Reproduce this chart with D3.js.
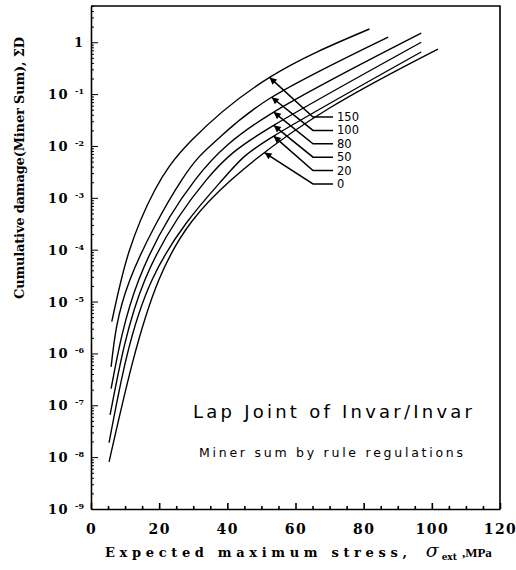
<!DOCTYPE html>
<html>
<head>
<meta charset="utf-8">
<script src="https://cdn.jsdelivr.net/npm/d3@7/dist/d3.min.js"></script>
<style>
  body { margin: 0; background: #fff; }
  .axis path, .axis line { stroke: #000; stroke-width: 1.6; }
  .tickLab { font-family: "DejaVu Serif", serif; font-weight: bold; font-size: 12px; }
  .curve { fill: none; stroke: #000; stroke-width: 1.4; }
</style>
</head>
<body>
<script>
// mean stress (MPa) for each curve, top curve first
var meanStress = ["150", "100", "80", "50", "20", "0"];

// expected max stress (MPa) / Miner sum, one pair per curve
var sig150 = [6.1, 11.1, 18.7, 29.6, 52.4, 81.7];
var dmg150 = [4.1e-6, 8.9e-5, 1.4e-3, 1.3e-2, 0.21, 1.8];
var sig100 = [5.9, 11.4, 26.6, 36.9, 53.0, 87.2];
var dmg100 = [5.5e-7, 2.6e-5, 2.2e-3, 1.3e-2, 8.7e-2, 1.26];
var sig80 = [5.9, 14.0, 30.5, 53.6, 96.9];
var dmg80 = [2.1e-7, 2.6e-5, 2.2e-3, 4.5e-2, 1.5];
var sig50 = [5.6, 15.8, 33.8, 53.6, 96.9];
var dmg50 = [6.5e-8, 2.6e-5, 2.2e-3, 2.5e-2, 1.0];
var sig20 = [5.3, 17.9, 38.5, 53.6, 96.9];
var dmg20 = [1.9e-8, 2.6e-5, 2.2e-3, 1.55e-2, 0.65];
var sig0 = [5.3, 19.9, 41.1, 70.0, 101.8];
var dmg0 = [8.1e-9, 2.6e-5, 2.2e-3, 5.4e-2, 0.74];

// stress where each arrow touches its curve
var arrowStress = [52.4, 53.0, 53.6, 53.6, 53.6, 50.9];

// tick labels
var xTickLabels = [0, 20, 40, 60, 80, 100, 120];
var decades = [0, -1, -2, -3, -4, -5, -6, -7, -8, -9];

window.onload = function(){

    var w = 516, h = 570;

    var svg = d3.select("body")
        .append("svg")
        .attr("width", w)
        .attr("height", h)
        .attr("class", "container");

    var x = d3.scaleLinear()
        .domain([0, 120])
        .range([91, 500]);

    var y = d3.scaleLog()
        .domain([1e-9, 5])
        .range([509, 6]);

    var allSig = [sig150, sig100, sig80, sig50, sig20, sig0];
    var allDmg = [dmg150, dmg100, dmg80, dmg50, dmg20, dmg0];
    var series = meanStress.map(function(m, i){
        return {
            label: m,
            points: allSig[i].map(function(s, j){ return [s, allDmg[i][j]]; }),
            tip: arrowStress[i]
        };
    });

    //frame (top + right)
    svg.append("path")
        .attr("d", "M" + x(0) + "," + y(5) + "H" + x(120) + "V" + y(1e-9))
        .attr("fill", "none")
        .attr("stroke", "#000")
        .attr("stroke-width", 1.6);

    //x axis - small ticks every 5, taller every 20
    var xAxis = d3.axisBottom(x)
        .tickValues(d3.range(0, 121, 5))
        .tickSizeInner(-3)
        .tickSizeOuter(0)
        .tickPadding(15)
        .tickFormat(function(d){ return xTickLabels.indexOf(d) >= 0 ? d : ""; });

    var gx = svg.append("g")
        .attr("class", "axis")
        .attr("transform", "translate(0," + y(1e-9) + ")")
        .call(xAxis);
    gx.selectAll(".tick line").attr("y2", function(d){ return d % 20 === 0 ? -6 : -3; });
    gx.selectAll("text")
        .attr("class", "tickLab")
        .style("font-size", "14px")
        .style("letter-spacing", "1.5px");

    //y axis - decade ticks and minor log ticks
    var yTicks = [];
    for (var n = -9; n <= 0; n++) {
        for (var k = 1; k <= 9; k++) {
            var v = k * Math.pow(10, n);
            if (v <= 5) yTicks.push(v);
        }
    }
    var yAxis = d3.axisLeft(y)
        .tickValues(yTicks)
        .tickSizeInner(-3)
        .tickSizeOuter(0)
        .tickFormat("");

    var gy = svg.append("g")
        .attr("class", "axis")
        .attr("transform", "translate(" + x(0) + ",0)")
        .call(yAxis);
    gy.selectAll(".tick line")
        .attr("x2", function(d){
            var l = Math.log10(d);
            return Math.abs(l - Math.round(l)) < 1e-9 ? 7 : 3;
        })
        .style("stroke-width", 1);

    //y tick labels with superscript exponents
    var yLabels = svg.selectAll(".yLab")
        .data(decades)
        .enter()
        .append("text")
        .attr("class", "tickLab")
        .attr("text-anchor", "end")
        .attr("x", function(d){ return d === 0 ? x(0) - 8 : x(0) - 7; })
        .attr("y", function(d){ return y(Math.pow(10, d)) + 5; })
        .style("font-size", "13px");
    yLabels.each(function(d){
        var t = d3.select(this);
        if (d === 0) {
            t.text("1");
        } else {
            t.append("tspan").text("10").style("letter-spacing", "1.5px");
            t.append("tspan")
                .attr("dx", 6)
                .attr("dy", -5)
                .style("font-size", "8px")
                .text("-" + (-d));
        }
    });

    //curves
    var line = d3.line()
        .x(function(d){ return x(d[0]); })
        .y(function(d){ return y(d[1]); })
        .curve(d3.curveNatural);

    var curves = svg.selectAll(".curve")
        .data(series)
        .enter()
        .append("path")
        .attr("class", "curve")
        .attr("d", function(d){ return line(d.points); });

    //find where each drawn curve crosses the arrow's stress
    curves.each(function(d){
        var node = this, xt = x(d.tip);
        var lo = 0, hi = node.getTotalLength();
        for (var it = 0; it < 40; it++) {
            var mid = (lo + hi) / 2;
            if (node.getPointAtLength(mid).x < xt) lo = mid; else hi = mid;
        }
        d.tipPx = node.getPointAtLength((lo + hi) / 2);
    });

    //leader lines, arrows and labels
    var labY = function(i){ return 117 + i * 13.4; };
    var bendX = 313, endX = 333;

    svg.append("defs").append("marker")
        .attr("id", "arrow")
        .attr("viewBox", "0 0 10 10")
        .attr("refX", 10)
        .attr("refY", 5)
        .attr("markerWidth", 13)
        .attr("markerHeight", 7)
        .attr("markerUnits", "userSpaceOnUse")
        .attr("orient", "auto")
        .append("path")
        .attr("d", "M0,0L10,5L0,10Z")
        .attr("fill", "#000");

    svg.selectAll(".leader")
        .data(series)
        .enter()
        .append("polyline")
        .attr("class", "leader")
        .attr("fill", "none")
        .attr("stroke", "#000")
        .attr("stroke-width", 1.5)
        .attr("marker-end", "url(#arrow)")
        .attr("points", function(d, i){
            return [endX, labY(i), bendX, labY(i), d.tipPx.x, d.tipPx.y].join(",");
        });

    svg.selectAll(".labels")
        .data(series)
        .enter()
        .append("text")
        .attr("class", "labels")
        .attr("x", endX + 4)
        .attr("y", function(d, i){ return labY(i) + 4; })
        .style("font-family", "'DejaVu Sans', sans-serif")
        .style("font-size", "11.5px")
        .text(function(d){ return d.label; });

    //annotation
    svg.append("text")
        .attr("x", 193)
        .attr("y", 418)
        .attr("textLength", 279)
        .attr("lengthAdjust", "spacing")
        .style("font-family", "'DejaVu Sans', sans-serif")
        .style("font-size", "18px")
        .text("Lap Joint of Invar/Invar");

    svg.append("text")
        .attr("x", 199)
        .attr("y", 457)
        .attr("textLength", 264)
        .attr("lengthAdjust", "spacing")
        .style("font-family", "'DejaVu Sans', sans-serif")
        .style("font-size", "12.5px")
        .text("Miner sum by rule regulations");

    //axis titles
    var xt = svg.append("text")
        .attr("x", 105)
        .attr("y", 557)
        .attr("class", "tickLab")
        .style("font-size", "13px");
    xt.append("tspan")
        .attr("textLength", 302)
        .attr("lengthAdjust", "spacing")
        .text("Expected maximum stress,");
    xt.append("tspan")
        .attr("dx", 14)
        .style("font-style", "italic")
        .style("font-weight", "normal")
        .style("font-size", "19px")
        .text("σ");
    xt.append("tspan")
        .attr("dx", 3)
        .attr("dy", 3)
        .style("font-size", "9px")
        .text("ext");
    xt.append("tspan")
        .attr("dx", 5)
        .attr("dy", -3)
        .style("font-family", "'Liberation Serif', serif")
        .style("font-size", "13px")
        .text(",MPa");

    svg.append("text")
        .attr("transform", "translate(24,168) rotate(-90)")
        .attr("text-anchor", "middle")
        .attr("class", "tickLab")
        .attr("textLength", 262)
        .attr("lengthAdjust", "spacing")
        .style("font-size", "13px")
        .text("Cumulative damage(Miner Sum), ΣD");
};
</script>
</body>
</html>
